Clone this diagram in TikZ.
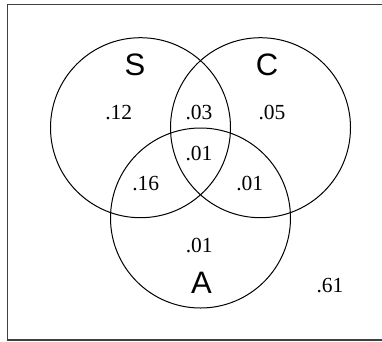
\documentclass[tikz,border=0pt]{standalone}
\usepackage{fontspec}
\setmainfont{Liberation Serif}
\setsansfont{Liberation Sans}
\begin{document}
\begin{tikzpicture}[x=1pt,y=-1pt,
  setcircle/.style={draw=black,line width=1pt,circle,minimum size=180pt,inner sep=0pt},
  prob/.style={anchor=base,inner sep=0pt,font=\fontsize{21.5}{21.5}\selectfont},
  setlabel/.style={anchor=base,inner sep=0pt,font=\sffamily\fontsize{31}{31}\selectfont}]
\useasboundingbox (0,0) rectangle (382,341);
\draw[black!75,line width=1.5pt] (395,4.7) -- (7.5,4.7) -- (7.5,340.2) -- (395,340.2);
\node[setcircle] (S) at (140.5,127.7) {};
\node[setcircle] (C) at (260.5,127.7) {};
\node[setcircle] (A) at (200.5,218) {};
\node[setlabel] (lS) at (135,75.5) {S};
\node[setlabel] (lC) at (267,75.5) {C};
\node[setlabel] (lA) at (201.5,293) {A};
\node[prob] (p1) at (118.7,119) {.12};
\node[prob] (p2) at (199,119) {.03};
\node[prob] (p3) at (272,119) {.05};
\node[prob] (p4) at (199,160) {.01};
\node[prob] (p5) at (145.8,190) {.16};
\node[prob] (p6) at (249.8,190) {.01};
\node[prob] (p7) at (199.3,252.3) {.01};
\node[prob] (p8) at (330,292.7) {.61};
\end{tikzpicture}
\end{document}
